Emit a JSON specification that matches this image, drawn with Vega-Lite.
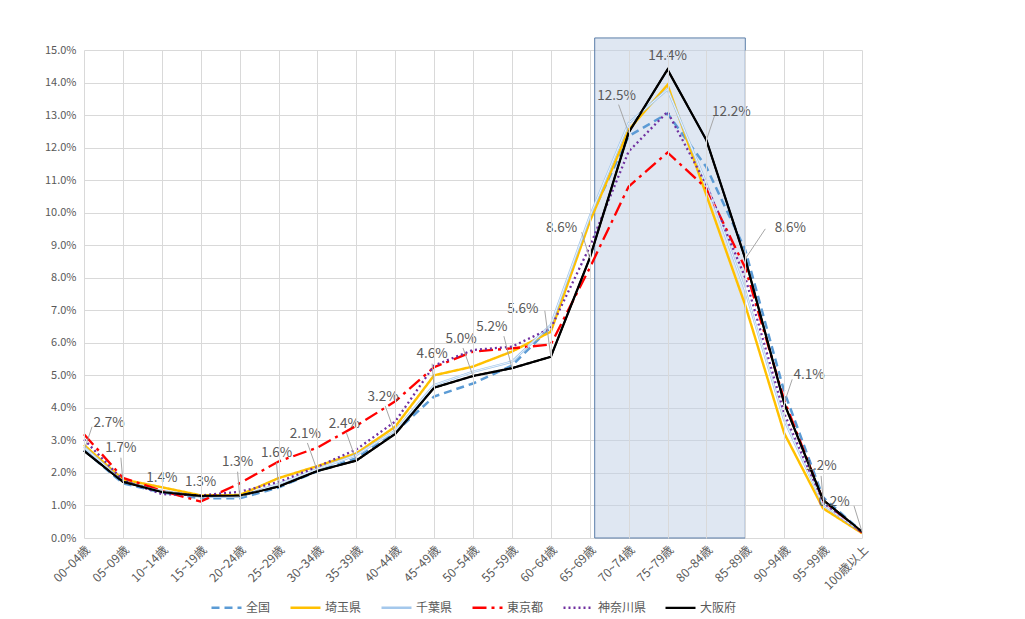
{
  "$schema": "https://vega.github.io/schema/vega-lite/v6.json",
  "width": 778,
  "height": 488,
  "autosize": {"type": "none"},
  "padding": {"left": 84, "top": 50, "right": 163, "bottom": 81},
  "background": "white",
  "config": {
    "font": "Noto Sans CJK JP",
    "view": {"stroke": null},
    "axis": {"labelColor": "#595959", "gridColor": "#D9D9D9", "gridWidth": 1, "domain": false, "ticks": false},
    "text": {"fontSize": 13.5, "color": "#595959"},
    "rule": {"color": "#A6A6A6", "strokeWidth": 1}
  },
  "datasets": {
    "hl": [{"from": "65~69歳", "to": "85~89歳", "lo": 0, "hi": 0.1537}],
    "pop": [
      {"age": "00~04歳", "pref": "全国", "value": 0.0270},
      {"age": "05~09歳", "pref": "全国", "value": 0.0168},
      {"age": "10~14歳", "pref": "全国", "value": 0.0140},
      {"age": "15~19歳", "pref": "全国", "value": 0.0122},
      {"age": "20~24歳", "pref": "全国", "value": 0.0122},
      {"age": "25~29歳", "pref": "全国", "value": 0.0155},
      {"age": "30~34歳", "pref": "全国", "value": 0.0205},
      {"age": "35~39歳", "pref": "全国", "value": 0.0245},
      {"age": "40~44歳", "pref": "全国", "value": 0.0325},
      {"age": "45~49歳", "pref": "全国", "value": 0.0435},
      {"age": "50~54歳", "pref": "全国", "value": 0.0475},
      {"age": "55~59歳", "pref": "全国", "value": 0.0530},
      {"age": "60~64歳", "pref": "全国", "value": 0.0648},
      {"age": "65~69歳", "pref": "全国", "value": 0.0980},
      {"age": "70~74歳", "pref": "全国", "value": 0.1235},
      {"age": "75~79歳", "pref": "全国", "value": 0.1305},
      {"age": "80~84歳", "pref": "全国", "value": 0.1140},
      {"age": "85~89歳", "pref": "全国", "value": 0.0885},
      {"age": "90~94歳", "pref": "全国", "value": 0.0450},
      {"age": "95~99歳", "pref": "全国", "value": 0.0125},
      {"age": "100歳以上", "pref": "全国", "value": 0.0019},
      {"age": "00~04歳", "pref": "埼玉県", "value": 0.0286},
      {"age": "05~09歳", "pref": "埼玉県", "value": 0.0180},
      {"age": "10~14歳", "pref": "埼玉県", "value": 0.0156},
      {"age": "15~19歳", "pref": "埼玉県", "value": 0.0131},
      {"age": "20~24歳", "pref": "埼玉県", "value": 0.0132},
      {"age": "25~29歳", "pref": "埼玉県", "value": 0.0184},
      {"age": "30~34歳", "pref": "埼玉県", "value": 0.0221},
      {"age": "35~39歳", "pref": "埼玉県", "value": 0.0260},
      {"age": "40~44歳", "pref": "埼玉県", "value": 0.0342},
      {"age": "45~49歳", "pref": "埼玉県", "value": 0.0500},
      {"age": "50~54歳", "pref": "埼玉県", "value": 0.0527},
      {"age": "55~59歳", "pref": "埼玉県", "value": 0.0573},
      {"age": "60~64歳", "pref": "埼玉県", "value": 0.0634},
      {"age": "65~69歳", "pref": "埼玉県", "value": 0.0972},
      {"age": "70~74歳", "pref": "埼玉県", "value": 0.1254},
      {"age": "75~79歳", "pref": "埼玉県", "value": 0.1393},
      {"age": "80~84歳", "pref": "埼玉県", "value": 0.1054},
      {"age": "85~89歳", "pref": "埼玉県", "value": 0.0715},
      {"age": "90~94歳", "pref": "埼玉県", "value": 0.0322},
      {"age": "95~99歳", "pref": "埼玉県", "value": 0.0091},
      {"age": "100歳以上", "pref": "埼玉県", "value": 0.0015},
      {"age": "00~04歳", "pref": "千葉県", "value": 0.0280},
      {"age": "05~09歳", "pref": "千葉県", "value": 0.0173},
      {"age": "10~14歳", "pref": "千葉県", "value": 0.0145},
      {"age": "15~19歳", "pref": "千葉県", "value": 0.0127},
      {"age": "20~24歳", "pref": "千葉県", "value": 0.0127},
      {"age": "25~29歳", "pref": "千葉県", "value": 0.0166},
      {"age": "30~34歳", "pref": "千葉県", "value": 0.0212},
      {"age": "35~39歳", "pref": "千葉県", "value": 0.0255},
      {"age": "40~44歳", "pref": "千葉県", "value": 0.0330},
      {"age": "45~49歳", "pref": "千葉県", "value": 0.0470},
      {"age": "50~54歳", "pref": "千葉県", "value": 0.0511},
      {"age": "55~59歳", "pref": "千葉県", "value": 0.0542},
      {"age": "60~64歳", "pref": "千葉県", "value": 0.0655},
      {"age": "65~69歳", "pref": "千葉県", "value": 0.0988},
      {"age": "70~74歳", "pref": "千葉県", "value": 0.1275},
      {"age": "75~79歳", "pref": "千葉県", "value": 0.1379},
      {"age": "80~84歳", "pref": "千葉県", "value": 0.1090},
      {"age": "85~89歳", "pref": "千葉県", "value": 0.0760},
      {"age": "90~94歳", "pref": "千葉県", "value": 0.0363},
      {"age": "95~99歳", "pref": "千葉県", "value": 0.0102},
      {"age": "100歳以上", "pref": "千葉県", "value": 0.0018},
      {"age": "00~04歳", "pref": "東京都", "value": 0.0319},
      {"age": "05~09歳", "pref": "東京都", "value": 0.0185},
      {"age": "10~14歳", "pref": "東京都", "value": 0.0145},
      {"age": "15~19歳", "pref": "東京都", "value": 0.0112},
      {"age": "20~24歳", "pref": "東京都", "value": 0.0168},
      {"age": "25~29歳", "pref": "東京都", "value": 0.0235},
      {"age": "30~34歳", "pref": "東京都", "value": 0.0278},
      {"age": "35~39歳", "pref": "東京都", "value": 0.0345},
      {"age": "40~44歳", "pref": "東京都", "value": 0.0420},
      {"age": "45~49歳", "pref": "東京都", "value": 0.0525},
      {"age": "50~54歳", "pref": "東京都", "value": 0.0573},
      {"age": "55~59歳", "pref": "東京都", "value": 0.0583},
      {"age": "60~64歳", "pref": "東京都", "value": 0.0595},
      {"age": "65~69歳", "pref": "東京都", "value": 0.0830},
      {"age": "70~74歳", "pref": "東京都", "value": 0.1080},
      {"age": "75~79歳", "pref": "東京都", "value": 0.1185},
      {"age": "80~84歳", "pref": "東京都", "value": 0.1075},
      {"age": "85~89歳", "pref": "東京都", "value": 0.0830},
      {"age": "90~94歳", "pref": "東京都", "value": 0.0424},
      {"age": "95~99歳", "pref": "東京都", "value": 0.0115},
      {"age": "100歳以上", "pref": "東京都", "value": 0.0017},
      {"age": "00~04歳", "pref": "神奈川県", "value": 0.0303},
      {"age": "05~09歳", "pref": "神奈川県", "value": 0.0178},
      {"age": "10~14歳", "pref": "神奈川県", "value": 0.0135},
      {"age": "15~19歳", "pref": "神奈川県", "value": 0.0131},
      {"age": "20~24歳", "pref": "神奈川県", "value": 0.0142},
      {"age": "25~29歳", "pref": "神奈川県", "value": 0.0172},
      {"age": "30~34歳", "pref": "神奈川県", "value": 0.0219},
      {"age": "35~39歳", "pref": "神奈川県", "value": 0.0272},
      {"age": "40~44歳", "pref": "神奈川県", "value": 0.0358},
      {"age": "45~49歳", "pref": "神奈川県", "value": 0.0530},
      {"age": "50~54歳", "pref": "神奈川県", "value": 0.0578},
      {"age": "55~59歳", "pref": "神奈川県", "value": 0.0588},
      {"age": "60~64歳", "pref": "神奈川県", "value": 0.0645},
      {"age": "65~69歳", "pref": "神奈川県", "value": 0.0895},
      {"age": "70~74歳", "pref": "神奈川県", "value": 0.1188},
      {"age": "75~79歳", "pref": "神奈川県", "value": 0.1310},
      {"age": "80~84歳", "pref": "神奈川県", "value": 0.1085},
      {"age": "85~89歳", "pref": "神奈川県", "value": 0.0800},
      {"age": "90~94歳", "pref": "神奈川県", "value": 0.0383},
      {"age": "95~99歳", "pref": "神奈川県", "value": 0.0107},
      {"age": "100歳以上", "pref": "神奈川県", "value": 0.0017},
      {"age": "00~04歳", "pref": "大阪府", "value": 0.0268},
      {"age": "05~09歳", "pref": "大阪府", "value": 0.0173},
      {"age": "10~14歳", "pref": "大阪府", "value": 0.0142},
      {"age": "15~19歳", "pref": "大阪府", "value": 0.0129},
      {"age": "20~24歳", "pref": "大阪府", "value": 0.0130},
      {"age": "25~29歳", "pref": "大阪府", "value": 0.0158},
      {"age": "30~34歳", "pref": "大阪府", "value": 0.0206},
      {"age": "35~39歳", "pref": "大阪府", "value": 0.0238},
      {"age": "40~44歳", "pref": "大阪府", "value": 0.0320},
      {"age": "45~49歳", "pref": "大阪府", "value": 0.0462},
      {"age": "50~54歳", "pref": "大阪府", "value": 0.0498},
      {"age": "55~59歳", "pref": "大阪府", "value": 0.0522},
      {"age": "60~64歳", "pref": "大阪府", "value": 0.0557},
      {"age": "65~69歳", "pref": "大阪府", "value": 0.0860},
      {"age": "70~74歳", "pref": "大阪府", "value": 0.1246},
      {"age": "75~79歳", "pref": "大阪府", "value": 0.1440},
      {"age": "80~84歳", "pref": "大阪府", "value": 0.1223},
      {"age": "85~89歳", "pref": "大阪府", "value": 0.0858},
      {"age": "90~94歳", "pref": "大阪府", "value": 0.0414},
      {"age": "95~99歳", "pref": "大阪府", "value": 0.0117},
      {"age": "100歳以上", "pref": "大阪府", "value": 0.0019}
    ]
  },
  "data": {"name": "pop"},
  "encoding": {
    "x": {
      "field": "age", "type": "ordinal", "title": null,
      "scale": {"type": "point", "padding": 0, "domain": ["00~04歳","05~09歳","10~14歳","15~19歳","20~24歳","25~29歳","30~34歳","35~39歳","40~44歳","45~49歳","50~54歳","55~59歳","60~64歳","65~69歳","70~74歳","75~79歳","80~84歳","85~89歳","90~94歳","95~99歳","100歳以上"]},
      "axis": {"labelAngle": -45, "labelFontSize": 12, "labelPadding": 6, "grid": true}
    },
    "y": {
      "field": "value", "type": "quantitative", "title": null,
      "scale": {"domain": [0, 0.15], "nice": false},
      "axis": {"format": ".1%", "values": [0,0.01,0.02,0.03,0.04,0.05,0.06,0.07,0.08,0.09,0.1,0.11,0.12,0.13,0.14,0.15], "labelFontSize": 11, "labelPadding": 8, "grid": true}
    }
  },
  "layer": [
    {
      "data": {"name": "hl"},
      "mark": {"type": "rect", "fill": "#BFD0E6", "fillOpacity": 0.5, "stroke": "#5A7DA8", "strokeWidth": 1, "xOffset": 5},
      "encoding": {
        "x": {"field": "from", "type": "ordinal", "title": null},
        "x2": {"field": "to"},
        "y": {"field": "lo", "type": "quantitative", "title": null},
        "y2": {"field": "hi"}
      }
    },
    {
      "mark": {"type": "line"},
      "encoding": {
        "color": {
          "field": "pref", "type": "nominal", "title": null,
          "scale": {"domain": ["全国","埼玉県","千葉県","東京都","神奈川県","大阪府"], "range": ["#5B9BD5","#FFC000","#A4C8EC","#FF0000","#7030A0","#000000"]},
          "legend": {"orient": "none", "legendX": 126, "legendY": 541, "direction": "horizontal", "symbolType": "stroke", "symbolSize": 900, "symbolStrokeWidth": 2.5, "labelFontSize": 12, "labelColor": "#595959", "columnPadding": 14, "labelOffset": 3}
        },
        "strokeDash": {
          "field": "pref", "type": "nominal", "title": null,
          "scale": {"domain": ["全国","埼玉県","千葉県","東京都","神奈川県","大阪府"], "range": [[8,5],[1,0],[1,0],[14,5,3,5],[2,3],[1,0]]}
        },
        "strokeWidth": {
          "field": "pref", "type": "nominal", "legend": null,
          "scale": {"domain": ["全国","埼玉県","千葉県","東京都","神奈川県","大阪府"], "range": [2.5,2.25,3.5,2.5,2.25,1.75]}
        },
        "order": {"value": null}
      }
    },
    {
      "transform": [{"filter": {"field": "pref", "equal": "千葉県"}}],
      "mark": {"type": "line", "stroke": "#FFFFFF", "strokeWidth": 0.9, "strokeOpacity": 0.9},
      "encoding": {"order": {"value": null}}
    },
    {
      "transform": [{"filter": {"field": "pref", "equal": "大阪府"}}],
      "mark": {"type": "line", "stroke": "#000000", "strokeWidth": 1.75},
      "encoding": {"order": {"value": null}}
    },
    {
      "transform": [{"filter": {"and": [{"field": "pref", "equal": "大阪府"}, {"field": "age", "oneOf": ["05~09歳","20~24歳","25~29歳","45~49歳","95~99歳"]}]}}],
      "mark": {"type": "rule", "x2Offset": -2, "y2Offset": -24},
      "encoding": {"x2": {"field": "age"}, "y2": {"field": "value"}}
    },
    {
      "transform": [{"filter": {"and": [{"field": "pref", "equal": "大阪府"}, {"field": "age", "oneOf": ["30~34歳","35~39歳","40~44歳","50~54歳","70~74歳"]}]}}],
      "mark": {"type": "rule", "x2Offset": -10, "y2Offset": -28},
      "encoding": {"x2": {"field": "age"}, "y2": {"field": "value"}}
    },
    {
      "transform": [{"filter": {"and": [{"field": "pref", "equal": "大阪府"}, {"field": "age", "oneOf": ["55~59歳"]}]}}],
      "mark": {"type": "rule", "x2Offset": -8, "y2Offset": -32},
      "encoding": {"x2": {"field": "age"}, "y2": {"field": "value"}}
    },
    {
      "transform": [{"filter": {"and": [{"field": "pref", "equal": "大阪府"}, {"field": "age", "oneOf": ["60~64歳"]}]}}],
      "mark": {"type": "rule", "x2Offset": -6, "y2Offset": -46},
      "encoding": {"x2": {"field": "age"}, "y2": {"field": "value"}}
    },
    {
      "transform": [{"filter": {"and": [{"field": "pref", "equal": "大阪府"}, {"field": "age", "oneOf": ["65~69歳","100歳以上"]}]}}],
      "mark": {"type": "rule", "x2Offset": -8, "y2Offset": -26},
      "encoding": {"x2": {"field": "age"}, "y2": {"field": "value"}}
    },
    {
      "transform": [{"filter": {"and": [{"field": "pref", "equal": "大阪府"}, {"field": "age", "oneOf": ["00~04歳","80~84歳","90~94歳"]}]}}],
      "mark": {"type": "rule", "x2Offset": 8, "y2Offset": -24},
      "encoding": {"x2": {"field": "age"}, "y2": {"field": "value"}}
    },
    {
      "transform": [{"filter": {"and": [{"field": "pref", "equal": "大阪府"}, {"field": "age", "oneOf": ["85~89歳"]}]}}],
      "mark": {"type": "rule", "x2Offset": 20, "y2Offset": -30},
      "encoding": {"x2": {"field": "age"}, "y2": {"field": "value"}}
    },
    {
      "transform": [{"filter": {"and": [{"field": "pref", "equal": "大阪府"}, {"field": "age", "oneOf": ["10~14歳","15~19歳","75~79歳"]}]}}],
      "mark": {"type": "text", "dx": 0, "dy": -14},
      "encoding": {"text": {"field": "value", "type": "quantitative", "format": ".1%"}}
    },
    {
      "transform": [{"filter": {"and": [{"field": "pref", "equal": "大阪府"}, {"field": "age", "oneOf": ["05~09歳","20~24歳","25~29歳","45~49歳","95~99歳"]}]}}],
      "mark": {"type": "text", "dx": -2, "dy": -34},
      "encoding": {"text": {"field": "value", "type": "quantitative", "format": ".1%"}}
    },
    {
      "transform": [{"filter": {"and": [{"field": "pref", "equal": "大阪府"}, {"field": "age", "oneOf": ["30~34歳","35~39歳","40~44歳","50~54歳","70~74歳"]}]}}],
      "mark": {"type": "text", "dx": -12, "dy": -37},
      "encoding": {"text": {"field": "value", "type": "quantitative", "format": ".1%"}}
    },
    {
      "transform": [{"filter": {"and": [{"field": "pref", "equal": "大阪府"}, {"field": "age", "oneOf": ["55~59歳"]}]}}],
      "mark": {"type": "text", "dx": -20, "dy": -41},
      "encoding": {"text": {"field": "value", "type": "quantitative", "format": ".1%"}}
    },
    {
      "transform": [{"filter": {"and": [{"field": "pref", "equal": "大阪府"}, {"field": "age", "oneOf": ["60~64歳"]}]}}],
      "mark": {"type": "text", "dx": -28, "dy": -48},
      "encoding": {"text": {"field": "value", "type": "quantitative", "format": ".1%"}}
    },
    {
      "transform": [{"filter": {"and": [{"field": "pref", "equal": "大阪府"}, {"field": "age", "oneOf": ["65~69歳","100歳以上"]}]}}],
      "mark": {"type": "text", "dx": -28, "dy": -30},
      "encoding": {"text": {"field": "value", "type": "quantitative", "format": ".1%"}}
    },
    {
      "transform": [{"filter": {"and": [{"field": "pref", "equal": "大阪府"}, {"field": "age", "oneOf": ["00~04歳","80~84歳","90~94歳"]}]}}],
      "mark": {"type": "text", "dx": 25, "dy": -28},
      "encoding": {"text": {"field": "value", "type": "quantitative", "format": ".1%"}}
    },
    {
      "transform": [{"filter": {"and": [{"field": "pref", "equal": "大阪府"}, {"field": "age", "oneOf": ["85~89歳"]}]}}],
      "mark": {"type": "text", "dx": 45, "dy": -31},
      "encoding": {"text": {"field": "value", "type": "quantitative", "format": ".1%"}}
    }
  ]
}
